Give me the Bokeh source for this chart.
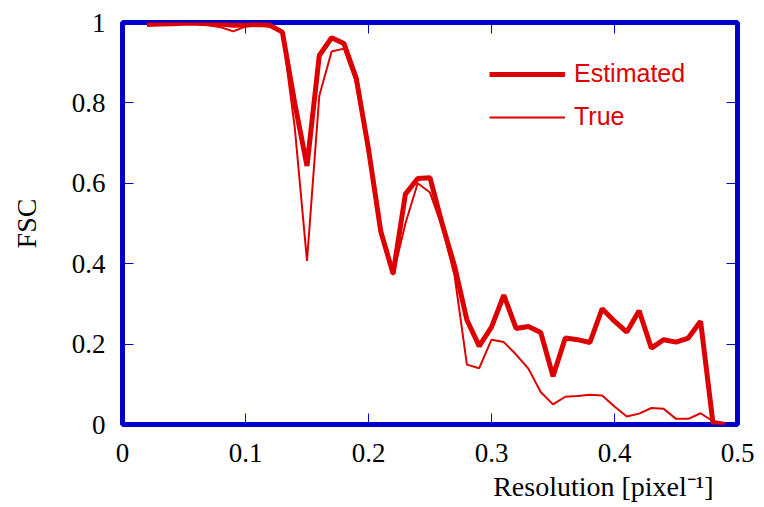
from bokeh.plotting import figure
from bokeh.models import Range1d, LinearAxis, FixedTicker, Legend, LegendItem, Title
from bokeh.embed import file_html
from bokeh.resources import INLINE

resolution = [0.02, 0.03, 0.04, 0.05, 0.06, 0.07, 0.08, 0.09, 0.10, 0.11,
              0.12, 0.13, 0.14, 0.15, 0.16, 0.17, 0.18, 0.19, 0.20, 0.21,
              0.22, 0.23, 0.24, 0.25, 0.26, 0.27, 0.28, 0.29, 0.30, 0.31,
              0.32, 0.33, 0.34, 0.35, 0.36, 0.37, 0.38, 0.39, 0.40, 0.41,
              0.42, 0.43, 0.44, 0.45, 0.46, 0.47, 0.48, 0.49]

fsc_estimated = [0.995, 0.996, 0.997, 0.998, 0.998, 0.997, 0.996, 0.993, 0.994, 0.995,
                 0.993, 0.976, 0.800, 0.643, 0.918, 0.962, 0.948, 0.862, 0.685, 0.480,
                 0.375, 0.573, 0.612, 0.614, 0.498, 0.394, 0.260, 0.195, 0.242, 0.322,
                 0.239, 0.244, 0.229, 0.120, 0.215, 0.211, 0.204, 0.288, 0.257, 0.230,
                 0.283, 0.190, 0.211, 0.205, 0.215, 0.257, 0.005, 0.000]

fsc_true = [0.993, 0.995, 0.997, 0.997, 0.996, 0.993, 0.988, 0.978, 0.990, 0.993,
            0.990, 0.975, 0.740, 0.407, 0.818, 0.928, 0.935, 0.850, 0.670, 0.470,
            0.372, 0.500, 0.600, 0.577, 0.490, 0.370, 0.149, 0.140, 0.211, 0.205,
            0.174, 0.139, 0.081, 0.050, 0.069, 0.071, 0.074, 0.072, 0.045, 0.020,
            0.027, 0.041, 0.039, 0.014, 0.014, 0.028, 0.008, 0.000]

x_ticks = [0, 0.1, 0.2, 0.3, 0.4, 0.5]
x_tick_labels = ["0", "0.1", "0.2", "0.3", "0.4", "0.5"]
y_ticks = [0, 0.2, 0.4, 0.6, 0.8, 1]
y_tick_labels = ["0", "0.2", "0.4", "0.6", "0.8", "1"]
x_title = "Resolution [pixel\u207b\u00b9]"
y_title = "FSC"
series_labels = ["Estimated", "True"]

RED = "#dd0000"
BLUE = "#0000cc"
SERIF = "Liberation Serif"
SANS = "Liberation Sans"

p = figure(width=764, height=507, output_backend="svg", toolbar_location=None,
           x_range=Range1d(0, 0.5), y_range=Range1d(0, 1),
           min_border_left=122, min_border_right=27, min_border_top=22, min_border_bottom=83,
           y_axis_label=y_title)
p.background_fill_color = "white"
p.border_fill_color = "white"
p.grid.visible = False
p.outline_line_color = BLUE
p.outline_line_width = 5

r_est = p.line(resolution, fsc_estimated, line_color=RED, line_width=5)
r_true = p.line(resolution, fsc_true, line_color=RED, line_width=2)

def style_axis(ax, ticks, labels, show):
    ax.ticker = FixedTicker(ticks=ticks)
    ax.axis_line_color = None
    ax.major_tick_in = 11
    ax.major_tick_out = 0
    ax.major_tick_line_color = BLUE
    ax.major_tick_line_width = 1
    ax.minor_tick_line_color = None
    if show:
        ax.major_label_overrides = {t: l for t, l in zip(ticks, labels)}
        ax.major_label_text_font = SERIF
        ax.major_label_text_font_size = "27px"
        ax.major_label_text_color = "black"
    else:
        ax.major_label_overrides = {t: "" for t in ticks}
        ax.major_label_text_font_size = "0px"
        ax.major_label_standoff = 0

style_axis(p.xaxis[0], x_ticks, x_tick_labels, True)
style_axis(p.yaxis[0], y_ticks, y_tick_labels, True)
p.xaxis[0].major_label_standoff = 19
p.yaxis[0].major_label_standoff = 17
p.yaxis[0].axis_label_text_font = SERIF
p.yaxis[0].axis_label_text_font_size = "28px"
p.yaxis[0].axis_label_text_font_style = "normal"
p.yaxis[0].axis_label_text_color = "black"
p.yaxis[0].axis_label_standoff = 27

top_axis = LinearAxis()
right_axis = LinearAxis()
style_axis(top_axis, x_ticks, x_tick_labels, False)
style_axis(right_axis, y_ticks, y_tick_labels, False)
p.add_layout(top_axis, "above")
p.add_layout(right_axis, "right")

xt = Title(text=x_title, align="right", offset=24, standoff=8,
           text_font=SERIF, text_font_size="28px", text_font_style="normal",
           text_color="black", text_line_height=0.75)
p.add_layout(xt, "below")

legend = Legend(items=[LegendItem(label=series_labels[0], renderers=[r_est]),
                       LegendItem(label=series_labels[1], renderers=[r_true])],
                location=(367, 293))
legend.border_line_color = None
legend.background_fill_alpha = 0
legend.padding = 0
legend.margin = 0
legend.glyph_width = 76
legend.glyph_height = 20
legend.label_standoff = 9
legend.label_height = 20
legend.spacing = 14
legend.label_text_font = SANS
legend.label_text_font_size = "25px"
legend.label_text_color = RED
p.add_layout(legend, "center")

open("out.html", "w").write(file_html(p, INLINE))
